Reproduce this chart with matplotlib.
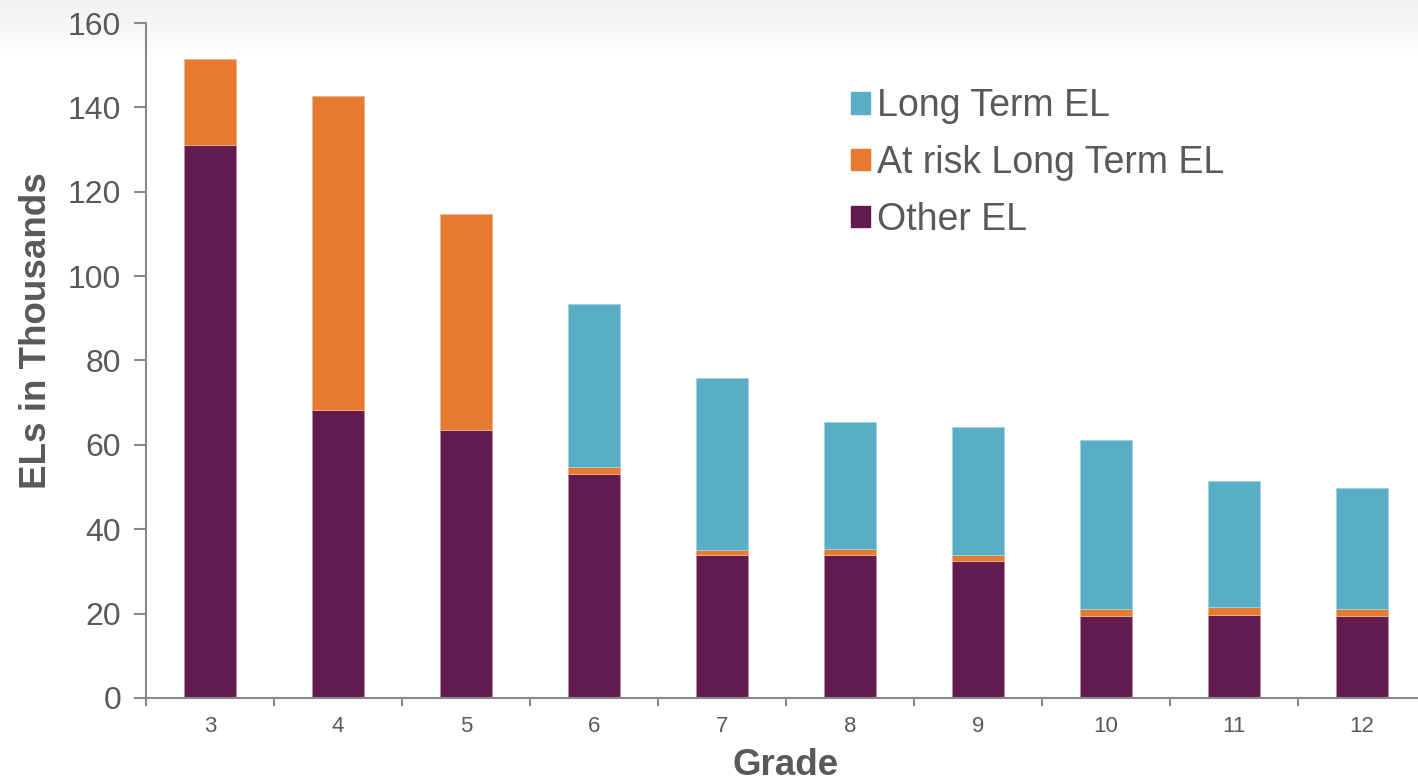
import numpy as np
import matplotlib.pyplot as plt
from matplotlib.patches import Patch

plt.rcParams['font.family'] = ['Liberation Sans', 'DejaVu Sans']

# data (thousands)
grades = ['3', '4', '5', '6', '7', '8', '9', '10', '11', '12']
other_el = [131.0, 68.2, 63.5, 53.1, 33.9, 33.9, 32.5, 19.4, 19.7, 19.4]
at_risk_el = [20.4, 74.5, 51.2, 1.6, 1.2, 1.4, 1.4, 1.7, 1.9, 1.7]
long_term_el = [0.0, 0.0, 0.0, 38.7, 40.7, 30.1, 30.3, 40.0, 29.8, 28.7]

c_other = '#621B4E'
c_risk = '#E57A30'
c_long = '#59ADC5'
c_text = '#595959'
c_axis = '#898989'

fig = plt.figure(figsize=(14.18, 7.83), dpi=100)

# faint grey band at the top of the slide
bg = fig.add_axes([0, 0, 1, 1], zorder=-1)
grad = np.ones((100, 2))
grad[92:, :] = np.linspace(1.0, 0.945, 8)[:, None]
bg.imshow(grad, cmap='gray', vmin=0, vmax=1, aspect='auto', extent=[0, 1, 0, 1], origin='lower')
bg.axis('off')

ax = fig.add_axes([0.103, 0.1086, 0.9026, 0.862])
ax.patch.set_alpha(0)

x = np.arange(len(grades))
w = 0.4
bottom2 = np.array(other_el) + np.array(at_risk_el)
ax.bar(x, other_el, w, color=c_other, edgecolor='#b58aa8', linewidth=0.6)
ax.bar(x, at_risk_el, w, bottom=other_el, color=c_risk, edgecolor='#f0b48a', linewidth=0.6)
lt = np.array(long_term_el)
has_lt = lt > 0
ax.bar(x[has_lt], lt[has_lt], w, bottom=bottom2[has_lt], color=c_long,
       edgecolor='#9fd3e3', linewidth=0.6)

ax.set_xlim(-0.5, len(grades) - 0.5)
ax.set_ylim(0, 160)
ax.set_yticks(np.arange(0, 161, 20))
ax.tick_params(axis='y', direction='out', length=9, width=1.5, color=c_axis,
               labelsize=23, labelcolor=c_text, pad=9)

ax.set_xticks(x)
ax.set_xticklabels(grades)
ax.set_xticks(np.arange(-0.5, len(grades)), minor=True)
ax.tick_params(axis='x', which='major', length=0, labelsize=16, labelcolor=c_text, pad=13)
ax.tick_params(axis='x', which='minor', direction='out', length=6, width=1.5, color=c_axis)

for s in ['top', 'right']:
    ax.spines[s].set_visible(False)
for s in ['left', 'bottom']:
    ax.spines[s].set_color(c_axis)
    ax.spines[s].set_linewidth(1.5)

ax.set_ylabel('ELs in Thousands', fontsize=26.5, fontweight='bold', color=c_text)
ax.yaxis.set_label_coords(-0.072, 0.544)
ax.set_xlabel('Grade', fontsize=26.5, fontweight='bold', color=c_text, labelpad=8)

handles = [Patch(color=c_long), Patch(color=c_risk), Patch(color=c_other)]
labels = ['Long Term EL', 'At risk Long Term EL', 'Other EL']
fig.legend(handles, labels, loc='upper left', bbox_to_anchor=(0.6, 0.887),
           frameon=False, fontsize=27, labelcolor=c_text, handlelength=0.5,
           handleheight=0.5, handletextpad=0.2, labelspacing=0.55, borderpad=0,
           borderaxespad=0)

fig.savefig('out.png', dpi=100)
